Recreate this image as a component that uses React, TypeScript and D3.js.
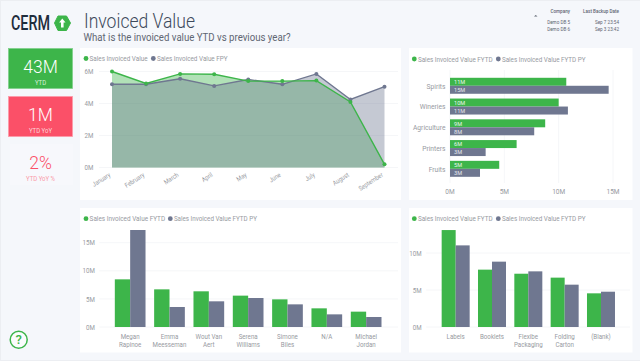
import React from "react";
import * as d3 from "d3";

const months = ["January","February","March","April","May","June","July","August","September"];
const invoiced = [6.0,5.25,5.85,5.83,5.4,5.4,5.43,4.1,0.2];
const invoicedFpy = [5.2,5.2,5.55,5.1,5.5,5.2,5.85,4.25,5.05];
const areaTicks = [0,2,4,6];

const industries = ["Spirits","Wineries","Agriculture","Printers","Fruits"];
const indFytd = [10.7,10.0,8.76,6.13,4.53];
const indPy = [14.6,10.85,7.75,3.28,2.76];
const indFytdLabels = ["11M","10M","9M","6M","5M"];
const indPyLabels = ["15M","11M","8M","3M","3M"];
const indTicks = [0,5,10,15];

const people = [["Megan","Rapinoe"],["Emma","Meesseman"],["Wout Van","Aert"],["Serena","Williams"],["Simone","Biles"],["N/A"],["Michael","Jordan"]];
const peopleFytd = [8.48,6.7,6.35,5.58,4.92,3.32,2.73];
const peoplePy = [17.26,3.56,4.57,5.16,4.03,2.25,1.78];
const peopleTicks = [0,5,10,15];

const products = [["Labels"],["Booklets"],["Flexibe","Packaging"],["Folding","Carton"],["(Blank)"]];
const prodFytd = [13.1,7.75,7.2,6.67,4.55];
const prodPy = [11.03,8.83,7.52,5.72,4.77];
const prodTicks = [0,5,10];

const companies = ["Demo DB 5","Demo DB 6"];
const backups = ["Sep 7 23:54","Sep 3 23:42"];

const GREEN = "#3db54a";
const GREY = "#6f7790";
const RED = "#fb5068";
const TXT = "#979aa1";
const FONT = "Roboto, sans-serif";

// Narrowed text: the reference's typeface is narrower than any installed one.
function T({x,y,sx=0.86,rot=0,children,...rest}:any) {
  return <text transform={`translate(${x},${y})${rot?` rotate(${rot})`:""} scale(${sx},1)`} {...rest}>{children}</text>;
}

function Legend({x,y,a,b,gap,wa,wb}:{x:number;y:number;a:string;b:string;gap:number;wa:number;wb:number}) {
  return <g fontSize={7.2} fill={TXT}>
    <circle cx={x} cy={y} r={2.4} fill={GREEN}/>
    <text x={x+3.6} y={y+2.5} textLength={wa} lengthAdjust="spacingAndGlyphs">{a}</text>
    <circle cx={x+gap} cy={y} r={2.4} fill={GREY}/>
    <text x={x+gap+3.6} y={y+2.5} textLength={wb} lengthAdjust="spacingAndGlyphs">{b}</text>
  </g>;
}

function Columns({names,a,b,ticks,y,x0,step,group,gridEnd}:{names:string[][];a:number[];b:number[];ticks:number[];y:d3.ScaleLinear<number,number>;x0:number;step:number;group:number;gridEnd:number}) {
  const band = d3.scaleBand<number>().domain(names.map((_,i)=>i)).range([x0,x0+step*names.length]).paddingInner(1-group/step).paddingOuter((1-group/step)/2);
  const inner = d3.scaleBand<number>().domain([0,1]).range([0,band.bandwidth()]);
  const gridX0 = band(0)!-15.5;
  return <g>
    {ticks.map(t=><g key={t}>
      <line x1={gridX0} x2={gridEnd} y1={y(t)} y2={y(t)} stroke="#f3f4f6" strokeWidth={0.8}/>
      <T x={gridX0-4.5} y={y(t)+2.6} textAnchor="end" fontSize={7.2} fill={TXT}>{t}M</T>
    </g>)}
    {names.map((n,i)=>{
      const bx=band(i)!; const cx=bx+band.bandwidth()/2;
      return <g key={i}>
        <rect x={bx+inner(0)!} width={inner.bandwidth()} y={y(a[i])} height={y(0)-y(a[i])} fill={GREEN}/>
        <rect x={bx+inner(1)!} width={inner.bandwidth()} y={y(b[i])} height={y(0)-y(b[i])} fill={GREY}/>
        {n.map((l,j)=><T key={j} x={cx} y={339+j*7.8} textAnchor="middle" fontSize={7.2} fill={TXT}>{l}</T>)}
      </g>;
    })}
  </g>;
}

export default function App() {
  const ax = d3.scalePoint<string>().domain(months).range([112,384.5]);
  const ay = d3.scaleLinear().domain([0,6]).range([167.5,71.5]);
  const area = (v:number[]) => d3.area<number>().x((_,i)=>ax(months[i])!).y0(ay(0)).y1(d=>ay(d))(v)!;
  const line = (v:number[]) => d3.line<number>().x((_,i)=>ax(months[i])!).y(d=>ay(d))(v)!;

  const hx = d3.scaleLinear().domain([0,15]).range([450,613]);
  const hy = d3.scaleBand<string>().domain(industries).range([75.4,179.2]).paddingInner(0.23).paddingOuter(0.115);
  const ly = d3.scaleLinear().domain([0,15]).range([327,242.7]);
  const ry = d3.scaleLinear().domain([0,10]).range([327,253]);

  return <svg width={640} height={361} style={{position:"fixed",left:0,top:0,fontFamily:FONT}}>
    <rect width={640} height={361} fill="#f5f7fb"/>
    <rect x={0} y={0} width={640} height={1} fill="#eceef2"/>
    <rect x={0} y={0} width={1} height={361} fill="#eceef2"/>
    <rect x={0} y={360} width={640} height={1} fill="#eceef2"/>

    {/* logo */}
    <text x={11} y={30} fontSize={20} fontWeight={500} fill="#1f2d3d" textLength={39} lengthAdjust="spacingAndGlyphs">CERM</text>
    <path d="M58 16 L66.5 16 L70.5 23 L66.5 30.5 L58 30.5 L54.5 23 Z" fill={GREEN} stroke={GREEN} strokeWidth={1} strokeLinejoin="round"/>
    <path d="M62.3 18.5 L65.5 22.5 L63.6 22.5 L63.6 27.5 L61 27.5 L61 22.5 L59.1 22.5 Z" fill="#fff"/>

    {/* header */}
    <text x={84} y={27.5} fontSize={19.5} fontWeight={300} fill="#3d4a5c" textLength={111} lengthAdjust="spacingAndGlyphs">Invoiced Value</text>
    <text x={83.5} y={40.5} fontSize={10} fill="#5f6672" textLength={207} lengthAdjust="spacingAndGlyphs">What is the invoiced value YTD vs previous year?</text>

    <g fontSize={4.6} fill="#5f6672" textAnchor="end">
      <text x={570} y={12.7} fontWeight={500}>Company</text>
      <text x={619} y={12.7} fontWeight={500}>Last Backup Date</text>
      {companies.map((c,i)=><text key={c} x={570} y={23.7+i*7.3}>{c}</text>)}
      {backups.map((c,i)=><text key={c} x={619} y={23.7+i*7.3}>{c}</text>)}
    </g>
    <path d="M534 16.5 L537.5 16.5 L535.75 15 Z" fill="#5f6672"/>

    {/* KPI */}
    <rect x={8.5} y={48.5} width={64} height={40} fill={GREEN} stroke="#7fd08a" strokeWidth={0.8}/>
    <T x={40.5} y={72.5} sx={0.92} textAnchor="middle" fontSize={19} fontWeight={300} fill="#fff">43M</T>
    <T x={40.5} y={85} textAnchor="middle" fontSize={7} fill="#d5f0d8">YTD</T>
    <rect x={8.5} y={96.5} width={64} height={40} fill={RED} stroke="#fd9aa8" strokeWidth={0.8}/>
    <T x={40.5} y={120.7} sx={0.92} textAnchor="middle" fontSize={19} fontWeight={300} fill="#fff">1M</T>
    <T x={40.5} y={133} textAnchor="middle" fontSize={7} fill="#fed5da">YTD YoY</T>
    <rect x={10} y={144} width={63} height={41} fill="#f7f8fc"/>
    <T x={40.5} y={168.5} sx={0.92} textAnchor="middle" fontSize={19} fontWeight={300} fill={RED}>2%</T>
    <T x={40.5} y={181} textAnchor="middle" fontSize={7} fill="#f99aa8">YTD YoY %</T>

    {/* help */}
    <circle cx={18.7} cy={339.7} r={8.5} fill="#fbfcfd" stroke={GREEN} strokeWidth={1.5}/>
    <text x={18.7} y={344.3} textAnchor="middle" fontSize={13} fontWeight={500} fill={GREEN}>?</text>

    {/* cards */}
    <rect x={80} y={48} width={321} height={152} fill="#fff"/>
    <rect x={409} y={48} width={223.5} height={152} fill="#fff"/>
    <rect x={80} y={208} width={321} height={144.5} fill="#fff"/>
    <rect x={409} y={208} width={223.5} height={144.5} fill="#fff"/>

    {/* area chart */}
    <Legend x={86} y={58.5} a="Sales Invoiced Value" b="Sales Invoiced Value FPY" gap={67.3} wa={58} wb={70.7}/>
    {areaTicks.map(t=><g key={t}>
      <line x1={99} x2={398} y1={ay(t)} y2={ay(t)} stroke="#f3f4f6" strokeWidth={0.8}/>
      <T x={93.5} y={ay(t)+2.6} textAnchor="end" fontSize={7.2} fill={TXT}>{t}M</T>
    </g>)}
    <path d={area(invoiced)} fill={GREEN} fillOpacity={0.4}/>
    <path d={area(invoicedFpy)} fill={GREY} fillOpacity={0.4}/>
    <path d={line(invoicedFpy)} fill="none" stroke={GREY} strokeWidth={1.4}/>
    <path d={line(invoiced)} fill="none" stroke={GREEN} strokeWidth={1.4}/>
    {invoicedFpy.map((d,i)=><circle key={i} cx={ax(months[i])!} cy={ay(d)} r={2} fill={GREY}/>)}
    {invoiced.map((d,i)=><circle key={i} cx={ax(months[i])!} cy={ay(d)} r={2} fill={GREEN}/>)}
    {months.map(m=><T key={m} x={ax(m)!-1} y={176} rot={-33} textAnchor="end" fontSize={6.6} fill={TXT}>{m}</T>)}

    {/* horizontal bars */}
    <Legend x={414.3} y={59} a="Sales Invoiced Value FYTD" b="Sales Invoiced Value FYTD PY" gap={84} wa={74.7} wb={83.7}/>
    {indTicks.map(t=><g key={t}>
      <line x1={hx(t)} x2={hx(t)} y1={70} y2={183} stroke="#f3f4f6" strokeWidth={0.8}/>
      <T x={hx(t)} y={194.4} textAnchor="middle" fontSize={7.6} fill={TXT}>{t}M</T>
    </g>)}
    {industries.map((c,i)=>{
      const y=hy(c)!; const h=hy.bandwidth()/2;
      return <g key={c}>
        <rect x={hx(0)} y={y} width={hx(indFytd[i])-hx(0)} height={h} fill={GREEN}/>
        <rect x={hx(0)} y={y+h} width={hx(indPy[i])-hx(0)} height={h} fill={GREY}/>
        <text x={454} y={y+h-1.6} fontSize={5.6} fill="#e8f6ea">{indFytdLabels[i]}</text>
        <text x={454} y={y+2*h-1.6} fontSize={5.6} fill="#e6e8ee">{indPyLabels[i]}</text>
        <T x={445.5} y={y+h+2.8} textAnchor="end" fontSize={7.8} fill={TXT}>{c}</T>
      </g>;
    })}

    {/* bottom left */}
    <Legend x={86} y={218.7} a="Sales Invoiced Value FYTD" b="Sales Invoiced Value FYTD PY" gap={84.3} wa={75.5} wb={83}/>
    <Columns names={people} a={peopleFytd} b={peoplePy} ticks={peopleTicks} y={ly} x0={110.5} step={39.33} group={30.7} gridEnd={398}/>

    {/* bottom right */}
    <Legend x={414.3} y={218.7} a="Sales Invoiced Value FYTD" b="Sales Invoiced Value FYTD PY" gap={84} wa={74.7} wb={83.7}/>
    <Columns names={products} a={prodFytd} b={prodPy} ticks={prodTicks} y={ry} x0={437.5} step={36.33} group={28} gridEnd={630}/>
  </svg>;
}
